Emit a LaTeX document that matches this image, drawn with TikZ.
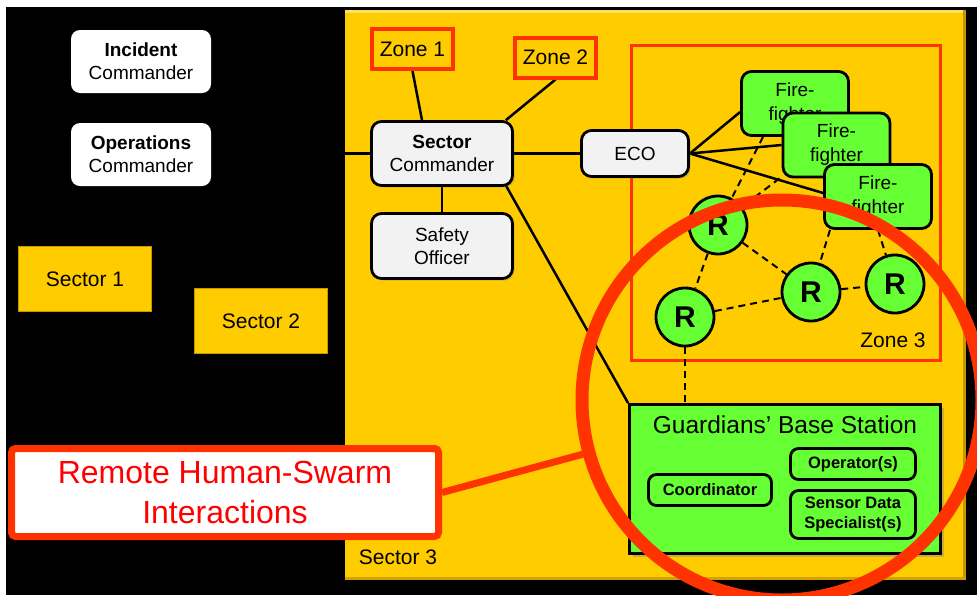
\documentclass[tikz,border=0pt]{standalone}
\usepackage{fontspec}
\setmainfont{Liberation Sans}
\usetikzlibrary{calc,shadows}
\definecolor{secyellow}{HTML}{FFCC00}
\definecolor{secdark}{HTML}{C89600}
\definecolor{seclight}{HTML}{FFE060}
\definecolor{ffgreen}{HTML}{66FF33}
\definecolor{zonered}{HTML}{FF3300}
\definecolor{boxgrey}{HTML}{F2F2F2}
\definecolor{txtred}{HTML}{FF0000}
\pgfdeclarelayer{bg}
\pgfdeclarelayer{lines}
\pgfdeclarelayer{fore}
\pgfsetlayers{bg,lines,main,fore}
\tikzset{
  cmdbox/.style={rounded corners=9pt, fill=white, align=center, inner sep=0pt,
    font=\fontsize{19}{23}\selectfont, minimum width=140pt, minimum height=63pt},
  secbox/.style={fill=secyellow, draw=secdark, line width=1pt, inner sep=0pt,
    font=\fontsize{21}{25}\selectfont, minimum width=133pt, minimum height=65pt},
  zonebox/.style={draw=zonered, line width=4pt, fill=secyellow, inner sep=0pt,
    font=\fontsize{21}{25}\selectfont, minimum width=81pt, minimum height=40pt},
  greybox/.style={draw=black, line width=2.8pt, fill=boxgrey, rounded corners=10pt,
    align=center, inner sep=0pt, font=\fontsize{19}{23}\selectfont,
    drop shadow={shadow xshift=2pt, shadow yshift=-2pt, opacity=0.35}},
  ffbox/.style={draw=black, line width=2.8pt, fill=ffgreen, rounded corners=10pt,
    align=center, inner sep=0pt, font=\fontsize{19}{24}\selectfont,
    minimum width=107pt, minimum height=64pt},
  robot/.style={circle, draw=black, line width=2.8pt, fill=ffgreen, inner sep=0pt,
    minimum size=58pt, font=\bfseries\fontsize{30}{30}\selectfont},
  gsub/.style={draw=black, line width=2.8pt, fill=ffgreen, rounded corners=8pt,
    align=center, inner sep=0pt, font=\bfseries\fontsize{16.5}{20}\selectfont},
  conn/.style={line width=2.5pt, draw=black},
  dconn/.style={line width=2pt, draw=black, dash pattern=on 7pt off 5pt},
  lbl/.style={inner sep=0pt, font=\fontsize{21}{25}\selectfont}
}
\begin{document}
\begin{tikzpicture}[x=1pt,y=-1pt]
\useasboundingbox (0,0) rectangle (977,595);
% ---------- nodes ----------
\node[cmdbox] (inc) at (141,61.5) {\textbf{Incident}\\Commander};
\node[cmdbox] (ops) at (141,154.5) {\textbf{Operations}\\Commander};
\node[secbox] (sec1) at (85,279) {Sector 1};
\node[secbox] (sec2) at (261,321) {Sector 2};

\node[zonebox] (zone1) at (412.5,49) {Zone 1};
\node[zonebox] (zone2) at (555.5,57.5) {Zone 2};
\node[greybox, minimum width=141pt, minimum height=64pt] (sc) at (442,153.5) {\textbf{Sector}\\Commander};
\node[greybox, minimum width=141pt, minimum height=65pt] (so) at (442,246) {Safety\\Officer};
\node[greybox, minimum width=107pt, minimum height=46pt] (eco) at (635,153.5) {ECO};

\node[ffbox] (ff1) at (795,103.5) {Fire-\\fighter};
\node[ffbox] (ff2) at (836.5,145) {Fire-\\fighter};
\node[ffbox] (ff3) at (878,196.5) {Fire-\\fighter};

\node[robot] (r1) at (718,225) {R};
\node[robot] (r2) at (685,317) {R};
\node[robot] (r3) at (811,292) {R};
\node[robot] (r4) at (895,284) {R};

\node[draw=black, line width=2.8pt, fill=ffgreen, minimum width=311pt, minimum height=149pt,
  drop shadow={shadow xshift=3pt, shadow yshift=-3pt, opacity=0.4}] (gbs) at (785,479) {};
\node[inner sep=0pt, font=\fontsize{24.5}{28}\selectfont] (gbst) at (785,425) {Guardians’ Base Station};
\node[gsub, minimum width=123pt, minimum height=31pt] (coord) at (710,490) {Coordinator};
\node[gsub, minimum width=125pt, minimum height=31pt] (oper) at (853,464) {Operator(s)};
\node[gsub, minimum width=125pt, minimum height=48pt] (sens) at (853,514.5) {Sensor Data\\Specialist(s)};

% ---------- background ----------
\begin{pgfonlayer}{bg}
  \fill[white] (0,0) rectangle (977,595);
  \fill[black] (6,7) rectangle (977,595);
  \node[fill=secyellow, minimum width=621pt, minimum height=570pt, inner sep=0pt] (s3) at (655.5,295) {};
  \fill[seclight] (s3.north west) rectangle ([yshift=-3pt]s3.north east);
  \fill[secdark] ([xshift=-3pt]s3.north east) rectangle (s3.south east);
  \fill[secdark!80!secyellow] ([yshift=3pt]s3.south west) rectangle (s3.south east);
  \node[lbl] (s3l) at (398,557) {Sector 3};
  \node[draw=zonered, line width=3.5pt, minimum width=309pt, minimum height=315pt, inner sep=0pt] (zone3) at (786,203) {};
  \node[lbl] (z3l) at (893,340) {Zone 3};
\end{pgfonlayer}

% ---------- connectors ----------
\begin{pgfonlayer}{lines}
  \draw[conn] (sc.west) -- (sc.west -| s3.west);
  \draw[conn] (zone1.south) -- ([xshift=-20pt]sc.north);
  \draw[conn] (zone2.south) -- ([xshift=-8pt]sc.north east);
  \draw[conn] (sc) -- (eco);
  \draw[conn] (sc) -- (so);
  \draw[conn] ([xshift=-10pt,yshift=5pt]sc.south east) -- (gbs.north west);
  \draw[conn] (eco.east) -- ([yshift=-8.5pt]ff1.west);
  \draw[conn] (eco.east) -- (ff2.west);
  \draw[conn] (eco.east) -- ([yshift=3.5pt]ff3.west);
  \draw[dconn] ([xshift=-32pt]ff1.south) -- (r1);
  \draw[dconn] ([xshift=-57pt]ff2.south) -- (r1);
  \draw[dconn] ([xshift=-48pt]ff3.south) -- (r3);
  \draw[dconn] (ff3.south) -- (r4);
  \draw[dconn] (r1) -- (r3);
  \draw[dconn] (r1) -- (r2);
  \draw[dconn] (r2) -- (r3);
  \draw[dconn] (r3) -- (r4);
  \draw[dconn] (r2) -- (r2 |- gbs.north);
\end{pgfonlayer}

% ---------- foreground ----------
\begin{pgfonlayer}{fore}
  \node[circle, draw=zonered, line width=13pt, minimum size=400pt, inner sep=0pt] (big) at (782,400) {};
  \node[draw=zonered, line width=7pt, fill=white, rounded corners=4pt, minimum width=427pt,
    minimum height=88pt, text=txtred, align=center, inner sep=0pt,
    font=\fontsize{32}{40}\selectfont] (remote) at (225,492.5) {Remote Human-Swarm\\Interactions};
  \draw[zonered, line width=7pt] (remote.east) -- (big);
\end{pgfonlayer}
\end{tikzpicture}
\end{document}
